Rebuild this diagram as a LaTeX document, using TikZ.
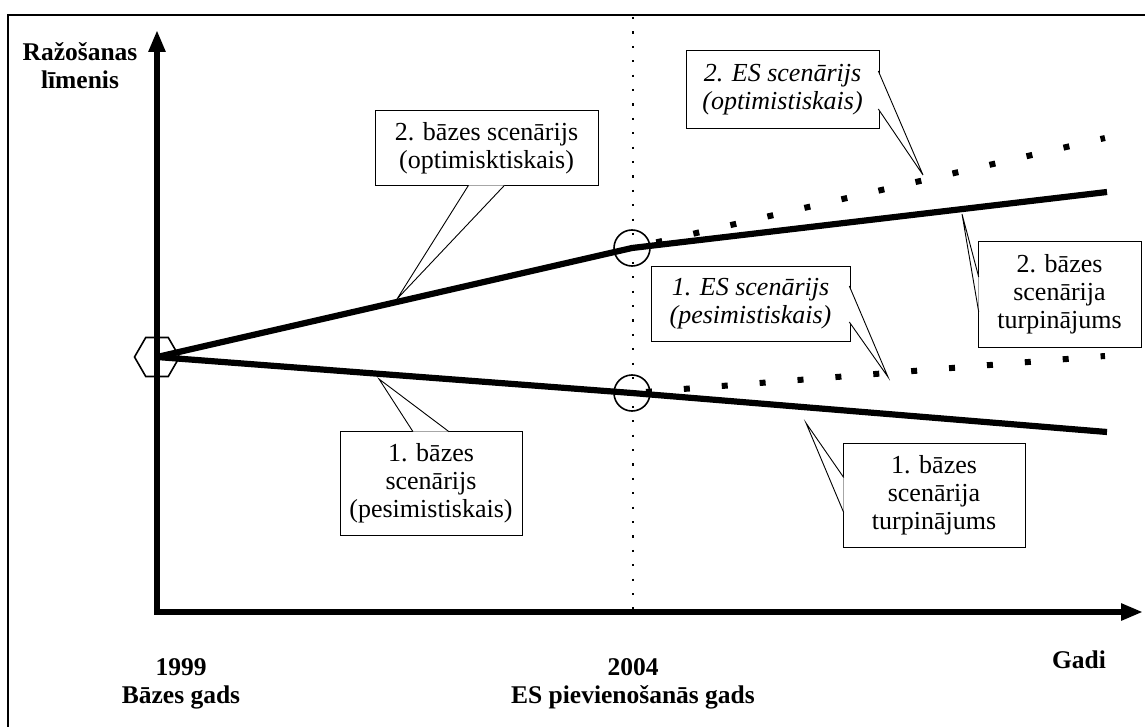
\documentclass[tikz,border=0pt]{standalone}
\usepackage{fontspec}
\setmainfont{Liberation Serif}
\usetikzlibrary{calc,arrows.meta,shapes.geometric}
% #1 box, #2 side anchor, #3 half base, #4 tip
\newcommand\callptr[4]{%
	\coordinate (pa) at ($(#1.#2)!1.2pt!(#1.center)-(#3)$);
	\coordinate (pb) at ($(#1.#2)!1.2pt!(#1.center)+(#3)$);
	\fill[white] (pa) -- (#4) -- (pb) -- cycle;
	\draw[ptr] (pa) -- (#4) -- (pb);}

\begin{document}
\begin{tikzpicture}[x=1pt, y=-1pt,
	trend/.style={line width=6.2pt},
	esline/.style={line width=6pt, dash pattern=on 6pt off 32pt},
	callbox/.style={draw, fill=white, line width=1pt, inner sep=0pt, align=center,
		font=\fontsize{26}{28}\selectfont},
	axislabel/.style={align=center, font=\fontsize{25.5}{28}\selectfont\bfseries},
	ptr/.style={line width=0.9pt},
	ring/.style={circle, draw, line width=1.6pt, minimum size=36pt, inner sep=0pt}]
		%%%%% START %%%%%
		\useasboundingbox (0,0) rectangle (1145,727);
		\draw[line width=1.2pt] (8,740) -- (8,15) -- (1160,15);
		
		% callouts
		\node[callbox, minimum width=223pt, minimum height=75pt] (b1) at (486.5,148.5) {2. bāzes scenārijs\\(optimisktiskais)};
		\node[callbox, minimum width=193pt, minimum height=78pt, font=\fontsize{26}{28}\selectfont\itshape] (b2) at (782.5,90) {2. ES scenārijs\\(optimistiskais)};
		\node[callbox, minimum width=199pt, minimum height=74pt, font=\fontsize{26}{28}\selectfont\itshape] (b3) at (750.5,304) {1. ES scenārijs\\(pesimistiskais)};
		\node[callbox, minimum width=163pt, minimum height=105pt] (b4) at (1059.5,294.5) {2. bāzes\\scenārija\\turpinājums};
		\node[callbox, minimum width=182pt, minimum height=104pt] (b5) at (934,495) {1. bāzes\\scenārija\\turpinājums};
		\node[callbox, minimum width=182pt, minimum height=104pt] (b6) at (431,483) {1. bāzes\\scenārijs\\(pesimistiskais)};
		
		\coordinate (t1) at (397,299);
		\coordinate (t2) at (923,175);
		\coordinate (t3) at (888,377);
		\coordinate (t4) at (962,214);
		\coordinate (t5) at (806,423);
		\coordinate (t6) at (379,379);
		\callptr{b1}{south}{18,0}{t1}
		\callptr{b2}{east}{0,19}{t2}
		\callptr{b3}{east}{0,18}{t3}
		\callptr{b4}{west}{0,17.5}{t4}
		\callptr{b5}{west}{0,17.5}{t5}
		\callptr{b6}{north}{18,0}{t6}
		
		% 2004 guide
		\draw[line width=2.2pt, dash pattern=on 2.2pt off 12.2pt] (633,17) -- (633,610);
		
		% axes
		\draw[line width=6.2pt, {Triangle[length=22pt,width=16pt]}-{Triangle[length=22pt,width=16pt]}] (157,30) -- (157,612) -- (1143,612);
		
		% scenarios
		\node[regular polygon, regular polygon sides=6, draw, line width=1.6pt, minimum size=45pt, inner sep=0pt] (o) at (157,357) {};
		\node[ring] (up) at (632,248) {};
		\node[ring] (dn) at (632,393) {};
		\coordinate (upEnd) at (1107,192);
		\coordinate (upES) at (1105,138);
		\coordinate (dnEnd) at (1107,432);
		\coordinate (dnES) at (1105,356);
		\draw[trend] (o.center) -- (up.center) -- (upEnd);
		\draw[trend] (o.center) -- (dn.center) -- (dnEnd);
		\draw[esline, dash phase=13pt] (up.center) -- (upES);
		\draw[esline, dash phase=24pt] (dn.center) -- (dnES);
		
		% labels
		\node[axislabel] (ylab) at (80,66) {Ražošanas\\līmenis};
		\node[axislabel] (y1999) at (181,684) {1999\\Bāzes gads};
		\node[axislabel] (y2004) at (633,684) {2004\\ES pievienošanās gads};
		\node[axislabel] (xlab) at (1079,660) {Gadi};
		%%%%% END %%%%%
\end{tikzpicture}
\end{document}
